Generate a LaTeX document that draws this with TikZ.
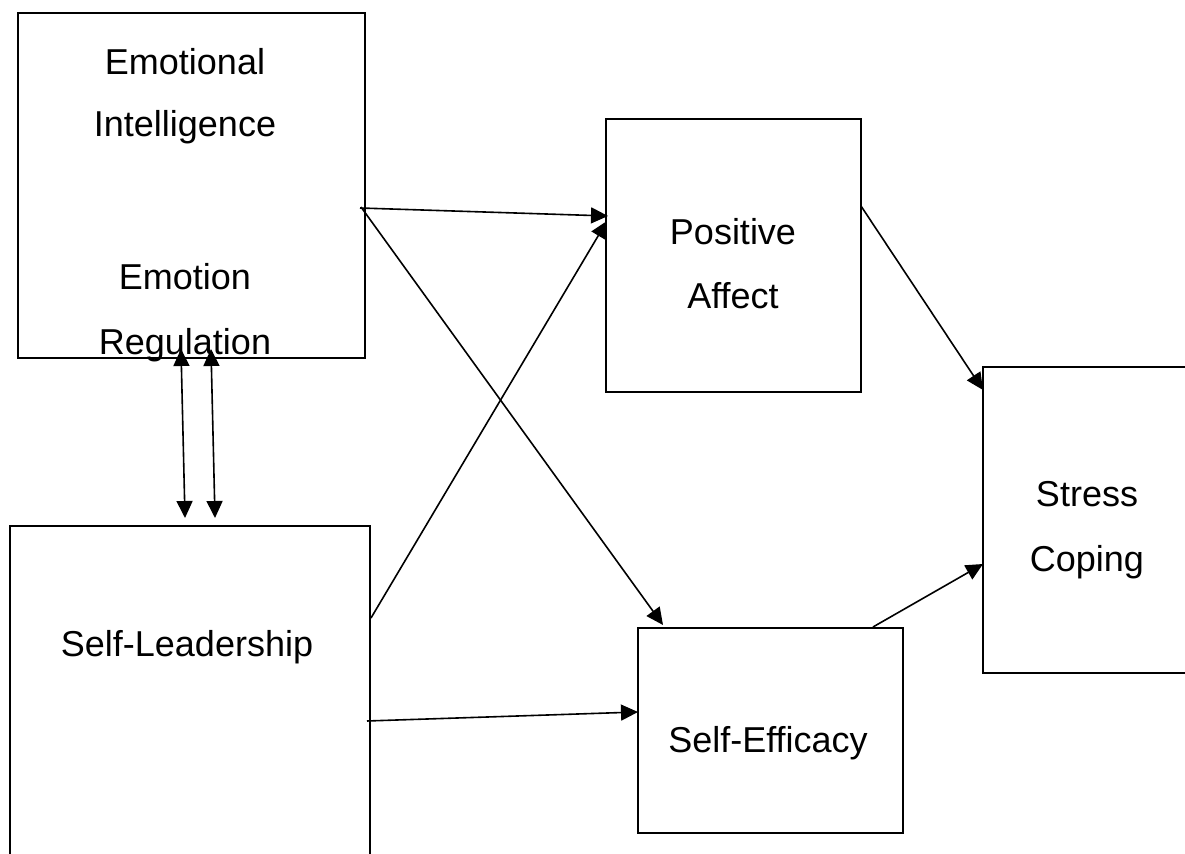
\documentclass[tikz,border=0pt]{standalone}
\usepackage{fontspec}
\setmainfont[Ligatures={NoCommon}]{Liberation Sans}
\usetikzlibrary{arrows.meta,fit}
\begin{document}
\begin{tikzpicture}[x=0.5pt,y=-0.5pt,
  box/.style={draw, line width=1pt, inner sep=0pt},
  lbl/.style={anchor=base, inner sep=0pt, font=\fontsize{18}{22}\selectfont},
  conn/.style={line width=0.8pt, -{Triangle[length=8.5pt,width=8pt]}},
  dconn/.style={line width=0.8pt, {Triangle[length=8.5pt,width=8pt]}-{Triangle[length=8.5pt,width=8pt]}}]
\useasboundingbox (0,0) rectangle (1185,854);
\clip (0,0) rectangle (1185,854);
% box corners
\coordinate (eiA) at (18,13);   \coordinate (eiB) at (365,358);
\coordinate (slA) at (10,526);  \coordinate (slB) at (370,880);
\coordinate (paA) at (606,119); \coordinate (paB) at (861,392);
\coordinate (seA) at (638,628); \coordinate (seB) at (903,833);
\coordinate (scA) at (983,367); \coordinate (scB) at (1200,673);
\node[box, fit=(eiA)(eiB)] (ei) {};
\node[box, fit=(slA)(slB)] (sl) {};
\node[box, fit=(paA)(paB)] (pa) {};
\node[box, fit=(seA)(seB)] (se) {};
\node[box, fit=(scA)(scB)] (sc) {};
% labels
\node[lbl] (t1) at (185,75) {Emotional};
\node[lbl] (t2) at (185,137) {Intelligence};
\node[lbl] (t3) at (185,290) {Emotion};
\node[lbl] (t4) at (185,355) {Regulation};
\node[lbl] (t5) at (733,245) {Positive};
\node[lbl] (t6) at (733,309) {Affect};
\node[lbl] (t7) at (1087,507) {Stress};
\node[lbl] (t8) at (1087,572) {Coping};
\node[lbl] (t9) at (187,657) {Self-Leadership};
\node[lbl] (t10) at (768,753) {Self-Efficacy};
% connector end points
\coordinate (p1) at (360,208);  \coordinate (q1) at (608,216);
\coordinate (p2) at (361,207);  \coordinate (q2) at (663,625);
\coordinate (p3) at (371,618);  \coordinate (q3) at (607,221);
\coordinate (p4) at (367,721);  \coordinate (q4) at (638,712);
\coordinate (p5) at (861,206);  \coordinate (q5) at (983,390);
\coordinate (p6) at (873,627);  \coordinate (q6) at (983,564);
\coordinate (p7) at (181,349);  \coordinate (q7) at (185,518);
\coordinate (p8) at (211,349);  \coordinate (q8) at (215,518);
\draw[conn] (p1) -- (q1);
\draw[conn] (p2) -- (q2);
\draw[conn] (p3) -- (q3);
\draw[conn] (p4) -- (q4);
\draw[conn] (p5) -- (q5);
\draw[conn] (p6) -- (q6);
\draw[dconn] (p7) -- (q7);
\draw[dconn] (p8) -- (q8);
\end{tikzpicture}
\end{document}
